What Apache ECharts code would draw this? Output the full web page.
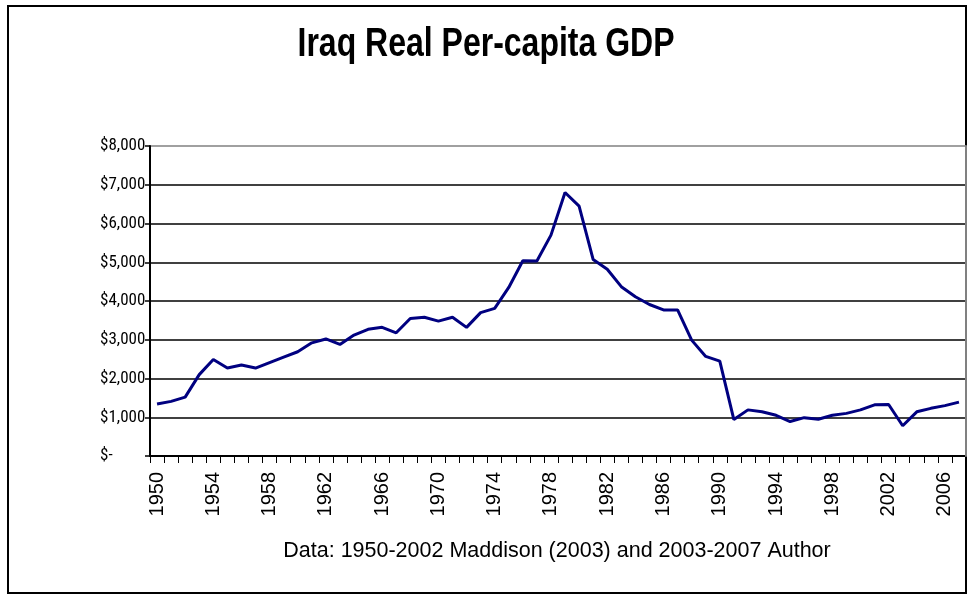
<!DOCTYPE html>
<html>
<head>
<meta charset="utf-8">
<script src="https://cdn.jsdelivr.net/npm/echarts@6/dist/echarts.min.js"></script>
<style>
html,body{margin:0;padding:0;background:#fff;}
#chart{width:972px;height:596px;}
</style>
</head>
<body>
<div id="chart"></div>
<script>
var titleText = 'Iraq Real Per-capita GDP';
var footerText = 'Data: 1950-2002 Maddison (2003) and 2003-2007 Author';
var years = [];
for (var y = 1950; y <= 2007; y++) years.push(String(y));
var gdp = [
  1340, 1410, 1520, 2100, 2490, 2270, 2350, 2270, 2410, 2550,
  2690, 2920, 3020, 2880, 3120, 3270, 3320, 3180, 3550, 3580,
  3480, 3580, 3320, 3700, 3810, 4350, 5040, 5030, 5700, 6800,
  6450, 5070, 4820, 4370, 4110, 3910, 3770, 3770, 2990, 2570,
  2450, 940, 1190, 1140, 1050, 890, 990, 950, 1050, 1100,
  1190, 1320, 1330, 780, 1140, 1230, 1300, 1390
];
var yTicks = [0, 1000, 2000, 3000, 4000, 5000, 6000, 7000, 8000];

var chart = echarts.init(document.getElementById('chart'));
var font = 'Arial, "Liberation Sans", sans-serif';
var condFont = '"Roboto Condensed", Arial, "Liberation Sans", sans-serif';
function fmt(v) {
  if (v === 0) return '$-';
  return '$' + v.toLocaleString('en-US');
}
var gridColors = yTicks.map(function (v, i) { return i === yTicks.length - 1 ? '#808080' : '#000000'; });

chart.setOption({
  animation: false,
  backgroundColor: '#ffffff',
  graphic: [
    {
      type: 'rect',
      shape: { x: 8, y: 6, width: 958, height: 587 },
      style: { fill: 'none', stroke: '#000', lineWidth: 2 },
      z: -10
    },
    {
      type: 'text',
      x: 486, y: 45,
      scaleY: 1.28,
      style: { text: titleText, font: 'bold 32px ' + font, fill: '#000', align: 'center', verticalAlign: 'middle' }
    },
    {
      type: 'text',
      x: 557, y: 551,
      style: { text: footerText, font: '21.5px ' + font, fill: '#000', align: 'center', verticalAlign: 'middle' }
    }
  ],
  grid: { left: 150, right: 6, top: 146, bottom: 140, containLabel: false },
  xAxis: {
    type: 'category',
    data: years,
    boundaryGap: true,
    axisLine: { show: true, lineStyle: { color: '#000', width: 2 } },
    axisTick: { show: true, interval: 0, length: 7, lineStyle: { color: '#000', width: 1 } },
    axisLabel: {
      interval: 3, rotate: 90, margin: 16, color: '#000',
      fontFamily: font, fontSize: 20
    },
    splitLine: { show: false }
  },
  yAxis: [
    {
      type: 'value',
      min: 0, max: 8000, interval: 1000,
      axisLine: { show: true, lineStyle: { color: '#000', width: 2 } },
      axisTick: { show: true, length: 5, lineStyle: { color: '#000', width: 1.5 } },
      axisLabel: {
        formatter: fmt, align: 'left', margin: 50, color: '#000',
        fontFamily: condFont, fontSize: 17
      },
      splitLine: { show: true, lineStyle: { color: gridColors, width: 1.5 } }
    },
    {
      type: 'value',
      position: 'right',
      min: 0, max: 8000, interval: 1000,
      z: 10,
      axisLine: { show: true, lineStyle: { color: '#808080', width: 2 } },
      axisTick: { show: false },
      axisLabel: { show: false },
      splitLine: { show: false }
    }
  ],
  series: [
    {
      type: 'line',
      data: gdp,
      showSymbol: false,
      symbol: 'none',
      lineStyle: { color: '#000080', width: 3 },
      z: 5
    }
  ]
});
</script>
</body>
</html>
